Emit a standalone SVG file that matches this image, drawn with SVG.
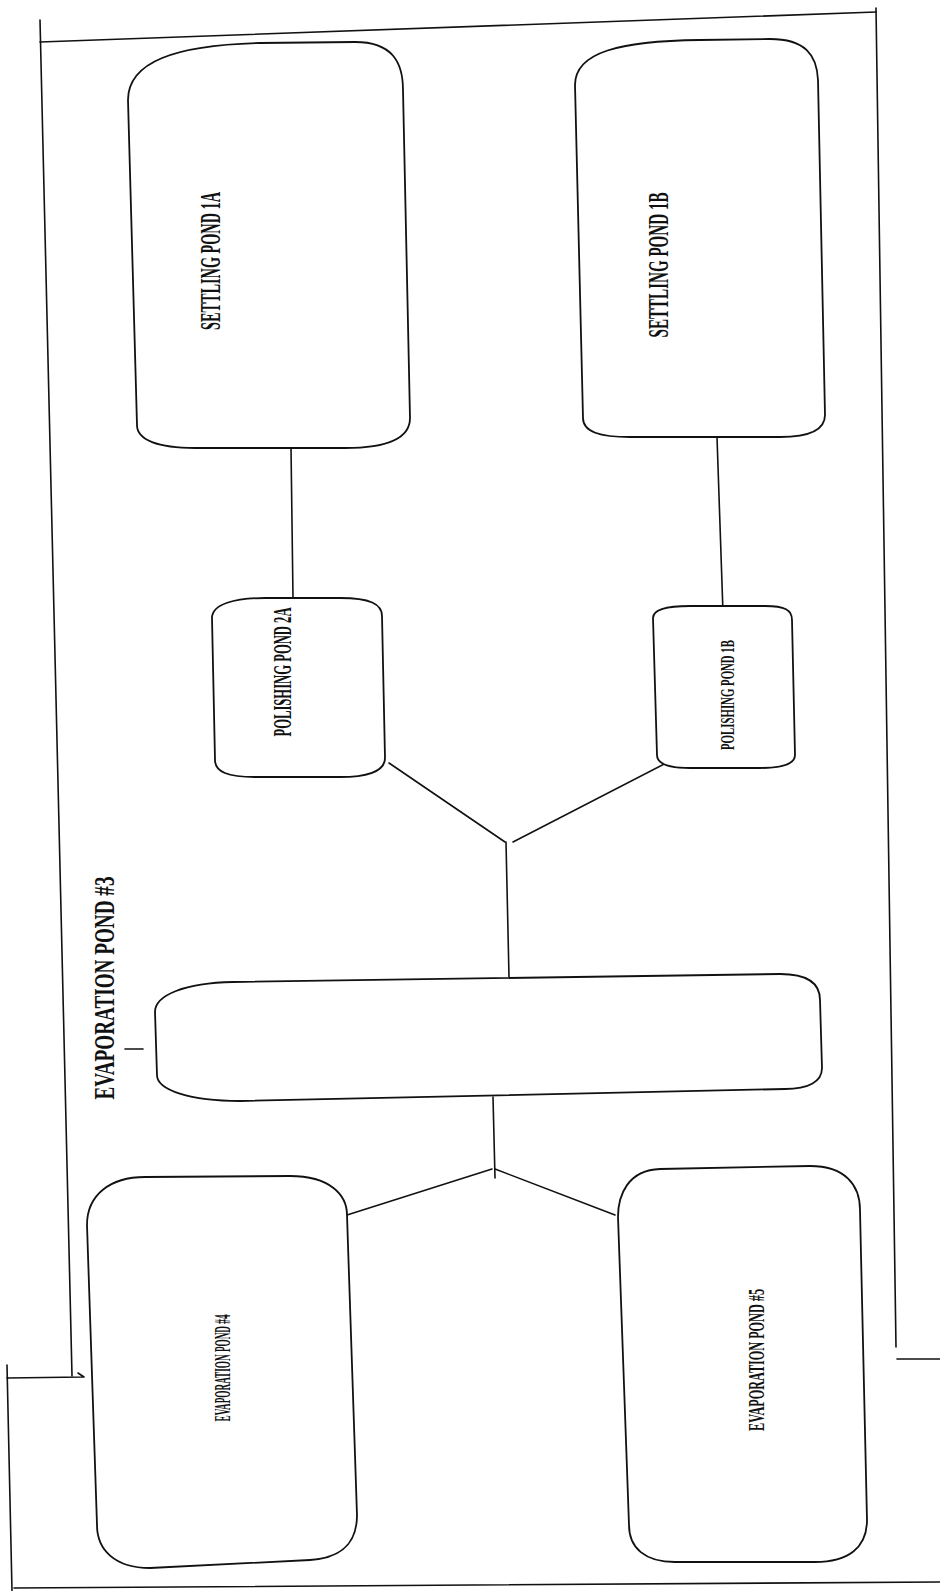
<svg xmlns="http://www.w3.org/2000/svg" width="940" height="1591" viewBox="0 0 940 1591">
<style>
.ln{fill:none;stroke:#111;stroke-width:1.6;stroke-linecap:round}
.pond{fill:#fff;stroke:#111;stroke-width:1.8}
.lbl{font-family:"Liberation Serif","Times New Roman",serif;font-weight:bold;fill:#111;text-anchor:middle}
</style>
<rect width="940" height="1591" fill="#fff"/>
<g id="frame" class="ln">
<path d="M40,20 L72,1376"/>
<path d="M40,42 L876,12"/>
<path d="M876,8 L896,1347"/>
<path d="M897,1359 L940,1359"/>
<path d="M7,1378 L83,1377 M78,1373 L84,1377"/>
<path d="M7,1365 L12,1591"/>
<path d="M14,1588 L940,1582"/>
<path d="M125,1049 L143,1049"/>
</g>
<g id="connectors" class="ln">
<path d="M291,447 L293,598"/>
<path d="M717,437 L723,613"/>
<path d="M389,763 L505,842"/>
<path d="M513,842 L672,760"/>
<path d="M506,842 L509,977"/>
<path d="M493,1097 L495,1178"/>
<path d="M492,1169 L347,1215"/>
<path d="M495,1169 L615,1215"/>
</g>
<g id="settling-1a">
<path class="pond" d="M128,100 C128,62 175,45 260,43 L355,42 C392,42 403,62 403,90 L410,418 C410,440 385,448 345,448 L195,448 C158,448 137,440 137,425 Z"/>
<text class="lbl" font-size="30" textLength="138" lengthAdjust="spacingAndGlyphs" transform="translate(210,261) rotate(-90)" y="10">SETTLING POND 1A</text>
</g>
<g id="settling-1b">
<path class="pond" d="M575,85 C575,52 620,41 700,40 L770,39 C805,39 817,55 818,80 L825,415 C825,432 805,437 780,437 L630,437 C600,437 583,432 583,418 Z"/>
<text class="lbl" font-size="30" textLength="145" lengthAdjust="spacingAndGlyphs" transform="translate(658,265) rotate(-90)" y="10">SETTLING POND 1B</text>
</g>
<g id="polishing-2a">
<path class="pond" d="M212,618 C212,604 235,598 265,598 L340,598 C370,598 382,604 382,616 L385,758 C385,772 365,777 340,777 L255,777 C228,777 215,772 215,760 Z"/>
<text class="lbl" font-size="25" textLength="129" lengthAdjust="spacingAndGlyphs" transform="translate(282,672) rotate(-90)" y="8.5">POLISHING POND 2A</text>
</g>
<g id="polishing-1b">
<path class="pond" d="M653,618 C653,609 670,606 690,606 L765,606 C785,606 792,610 792,620 L795,755 C795,765 780,768 760,768 L690,768 C668,768 657,764 657,755 Z"/>
<text class="lbl" font-size="19" textLength="110" lengthAdjust="spacingAndGlyphs" transform="translate(727,695) rotate(-90)" y="6.5">POLISHING POND 1B</text>
</g>
<g id="evaporation-3">
<path class="pond" d="M155,1012 C155,995 185,983 233,982 L780,974 C810,974 820,985 820,1000 L822,1068 C822,1082 808,1089 785,1089 L240,1101 C190,1101 157,1090 157,1075 Z"/>
<text class="lbl" font-size="30" textLength="223" lengthAdjust="spacingAndGlyphs" transform="translate(104,988) rotate(-90)" y="10">EVAPORATION POND #3</text>
</g>
<g id="evaporation-4">
<path class="pond" d="M87,1225 C87,1195 110,1177 145,1177 L290,1176 C330,1176 347,1195 347,1215 L357,1515 C357,1545 340,1558 310,1560 L150,1568 C115,1568 97,1550 97,1525 Z"/>
<text class="lbl" font-size="23" textLength="107" lengthAdjust="spacingAndGlyphs" transform="translate(222,1368) rotate(-90)" y="7.5">EVAPORATION POND #4</text>
</g>
<g id="evaporation-5">
<path class="pond" d="M618,1217 C618,1195 628,1170 660,1169 L810,1166 C845,1166 860,1185 860,1210 L867,1520 C867,1548 848,1562 815,1562 L675,1562 C645,1562 629,1548 629,1525 Z"/>
<text class="lbl" font-size="23" textLength="142" lengthAdjust="spacingAndGlyphs" transform="translate(756,1360) rotate(-90)" y="7.5">EVAPORATION POND #5</text>
</g>
</svg>
